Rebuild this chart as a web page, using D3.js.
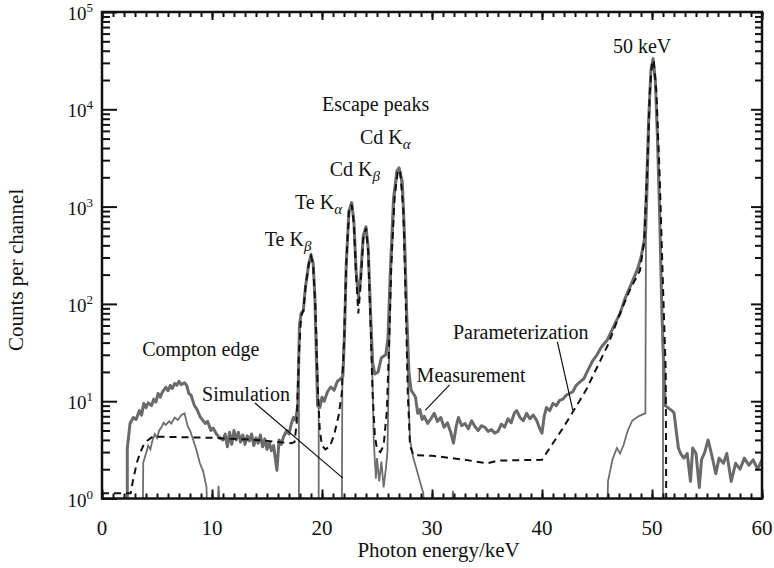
<!DOCTYPE html>
<html>
<head>
<meta charset="utf-8">
<script src="https://cdn.jsdelivr.net/npm/d3@7"></script>
<style>
  body { margin: 0; background: #fff; }
  svg text { font-family: "Liberation Serif", "DejaVu Serif", serif; fill: #111; }
</style>
</head>
<body>
<svg id="chart"></svg>
<script>
// spectrum data, [energy keV, counts]; 0.5 means nothing in that channel (clipped below axis)
const measurement = [
  [2.3,0.5],[2.3,3.3],[2.55,5.9],[2.85,6.8],[3.1,6.5],[3.4,8.0],[3.6,7.2],[3.8,9.5],[4.0,8.6],[4.2,9.6],
  [4.5,9.0],[4.7,10.5],[4.9,9.8],[5.1,12.0],[5.3,11.0],[5.5,12.5],[5.8,13.9],[6.0,12.8],[6.2,14.5],[6.4,13.5],
  [6.6,15.2],[6.8,14.6],[7.0,16.0],[7.2,14.8],[7.5,15.5],[7.7,14.5],[7.9,12.0],[8.1,11.5],[8.4,9.0],[8.6,8.4],
  [8.9,7.0],[9.1,6.5],[9.4,5.9],[9.6,6.2],[9.9,5.0],[10.1,5.3],[10.4,4.6],[10.7,4.2],[11.0,4.0],[11.2,4.6],
  [11.4,3.4],[11.6,4.8],[11.8,3.6],[12.0,5.0],[12.2,4.0],[12.4,4.8],[12.6,3.8],[12.8,4.5],[13.0,3.6],[13.2,4.4],
  [13.4,3.9],[13.6,4.6],[13.8,3.5],[14.0,4.2],[14.2,3.7],[14.4,4.5],[14.6,3.4],[14.8,4.1],[15.0,3.2],[15.2,3.8],
  [15.4,3.1],[15.6,3.5],[15.9,1.95],[16.1,4.0],[16.3,3.6],[16.5,4.3],[16.8,5.0],[17.0,4.6],[17.2,5.8],[17.4,6.8],
  [17.6,6.4],[17.8,9.0],[17.95,60],[18.1,80],[18.3,85],[18.5,150],[18.8,260],[19.0,320],[19.2,260],[19.35,120],
  [19.5,25],[19.6,9],[19.8,8.6],[20.0,11],[20.2,10],[20.5,12.5],[20.8,14],[21.1,13],[21.4,16],[21.7,17],
  [21.9,18],[22.05,50],[22.2,250],[22.45,900],[22.7,1100],[22.9,700],[23.1,220],[23.3,120],[23.5,180],[23.75,500],
  [24.0,620],[24.2,380],[24.4,90],[24.6,25],[24.8,19],[25.1,20],[25.4,28],[25.8,30],[26.0,45],[26.2,200],
  [26.5,1200],[26.8,2300],[27.0,2500],[27.3,1800],[27.5,500],[27.7,80],[27.9,20],[28.1,13],[28.3,12],[28.5,11],
  [28.7,7.5],[28.9,8.2],[29.1,6.5],[29.3,7.0],[29.6,5.9],[29.9,6.6],[30.2,7.5],[30.5,6.2],[30.8,6.8],[31.1,5.4],
  [31.4,6.0],[31.7,4.8],[31.95,3.7],[32.2,5.5],[32.4,6.8],[32.7,5.6],[33.0,5.9],[33.3,5.2],[33.6,6.3],[33.9,5.5],
  [34.2,5.0],[34.5,5.6],[34.8,5.4],[35.1,4.9],[35.4,5.1],[35.7,4.7],[36.0,4.9],[36.3,5.8],[36.6,5.4],[36.9,6.6],
  [37.2,6.0],[37.5,7.6],[37.7,8.0],[38.0,6.8],[38.3,6.3],[38.6,7.5],[38.9,6.6],[39.2,7.2],[39.5,6.4],[39.8,5.2],
  [40.0,4.7],[40.2,7.0],[40.4,8.6],[40.7,8.0],[41.0,9.5],[41.3,9.0],[41.6,10.2],[41.9,10.5],[42.2,11.5],[42.5,12],
  [42.8,12.5],[43.1,14.5],[43.5,16],[43.8,17],[44.1,20],[44.6,26],[45.0,30],[45.4,36],[45.9,42],[46.3,52],
  [46.7,65],[47.1,80],[47.5,110],[47.9,140],[48.3,180],[48.7,230],[49.0,300],[49.3,450],[49.5,1500],[49.7,8000],
  [49.9,25000],[50.1,33000],[50.3,20000],[50.5,5000],[50.7,800],[50.9,80],[51.1,20],[51.2,9],[51.5,8.5],[51.8,8.0],
  [52.0,7.6],[52.2,5.0],[52.4,3.3],[52.6,2.9],[52.9,2.6],[53.2,2.9],[53.5,1.5],[53.7,3.3],[54.0,2.9],[54.3,1.3],
  [54.5,2.5],[54.8,3.0],[55.1,4.0],[55.4,2.9],[55.8,1.8],[56.1,2.6],[56.5,2.3],[56.8,2.9],[57.2,1.5],[57.6,2.3],
  [58.0,2.0],[58.4,2.6],[58.8,2.2],[59.2,2.5],[59.6,2.0],[60.0,2.5]
];

const simulation = [
  [3.7,0.5],[3.75,2.35],[4.0,2.9],[4.2,3.5],[4.4,3.2],[4.6,4.0],[4.8,4.6],[5.0,4.2],[5.2,5.0],[5.4,5.4],
  [5.6,6.0],[5.8,5.7],[6.1,6.2],[6.3,5.9],[6.6,6.8],[6.9,6.4],[7.2,7.2],[7.5,7.5],[7.8,5.5],[8.0,5.0],
  [8.3,4.0],[8.6,3.1],[8.9,2.3],[9.2,1.9],[9.5,1.3],[9.6,0.5],[10.4,0.5],[10.6,1.35],[10.8,0.5],
  [17.9,0.5],[17.9,60],[18.1,75],[18.3,85],[18.5,150],[18.8,260],[19.0,320],[19.2,260],[19.4,100],[19.6,20],
  [19.7,8],[19.7,0.5],
  [21.8,0.5],[21.85,20],[22.0,40],[22.2,250],[22.45,900],[22.7,1100],[22.9,700],[23.1,220],[23.3,110],[23.5,170],
  [23.75,480],[24.0,620],[24.2,360],[24.4,80],[24.6,15],[24.7,4],[24.8,2.5],[24.9,1.6],[25.0,2.6],[25.2,1.5],
  [25.4,2.4],[25.6,1.3],[25.8,2.0],[25.95,3],[26.1,30],[26.3,250],[26.6,1300],[26.9,2400],[27.1,2400],[27.4,1000],
  [27.6,150],[27.8,20],[28.0,4],[28.3,2.6],[28.6,2.0],[28.9,1.5],[29.2,1.15],[29.4,0.5],
  [31.7,0.5],[31.9,1.2],[32.1,0.5],
  [45.9,0.5],[46.0,1.5],[46.4,2.5],[46.8,3.3],[47.1,2.9],[47.4,3.5],[47.8,5.0],[48.2,6.3],[48.6,6.8],[48.9,7.1],
  [49.4,7.5],[49.45,450],[49.6,1500],[49.75,8000],[49.9,25000],[50.1,33000],[50.3,20000],[50.5,5000],[50.7,800],
  [50.9,100],[51.0,20],[51.0,0.5]
];

const parameterization = [
  [0,1.13],[2.6,1.13],[2.8,1.5],[3.0,1.9],[3.2,2.4],[3.5,3.0],[3.8,3.6],[4.2,4.0],[4.6,4.3],[6,4.3],
  [10,4.2],[14,4.0],[16,3.8],[17.2,3.7],[17.5,3.8],[17.7,6],[17.9,30],[18.1,75],[18.3,85],[18.5,150],
  [18.8,260],[19.0,310],[19.2,250],[19.4,90],[19.6,15],[19.8,5],[20.0,3.5],[20.3,3.2],[20.7,3.4],[21.1,4.5],
  [21.5,7],[21.8,12],[22.0,40],[22.2,250],[22.45,880],[22.7,1050],[22.9,650],[23.1,200],[23.3,80],[23.5,150],
  [23.75,470],[24.0,600],[24.2,340],[24.4,70],[24.6,12],[24.8,4.5],[25.0,3.2],[25.3,3.0],[25.6,3.5],[25.9,8],
  [26.1,40],[26.3,250],[26.6,1250],[26.9,2350],[27.1,2350],[27.4,900],[27.6,120],[27.8,12],[28.0,3.5],[28.3,2.8],
  [30,2.75],[33,2.5],[35,2.3],[36,2.45],[40,2.5],[42,5.5],[44,13],[46,38],[47.1,80],[48,140],
  [48.9,220],[49.3,450],[49.6,3000],[49.8,15000],[50.0,30000],[50.15,32000],[50.4,15000],[50.7,2000],[51.0,150],
  [51.25,20],[51.3,0.5]
];

const xTicks = [0, 10, 20, 30, 40, 50, 60];
const yTicks = [1, 10, 100, 1000, 10000, 100000];
const yExponents = ["0", "1", "2", "3", "4", "5"];

// annotations in data coordinates: label start (baseline), optional leader line
const notes = [
  {text: "Compton edge", e: 3.65, c: 29},
  {text: "Simulation", e: 9.1, c: 10},
  {text: "Measurement", e: 28.6, c: 15.7},
  {text: "Parameterization", e: 31.9, c: 43.6},
  {text: "Escape peaks", e: 20.0, c: 9600},
  {text: "50 keV", e: 46.45, c: 37900}
];
const leaders = [
  [[13.9, 9.6], [21.9, 1.62]],
  [[31.6, 14.7], [29.4, 8.1]],
  [[41.4, 40.6], [42.8, 8.1]]
];
const peakNotes = [
  {main: "Te K", sub: "\u03b2", e: 14.8, c: 394},
  {main: "Te K", sub: "\u03b1", e: 17.55, c: 945},
  {main: "Cd K", sub: "\u03b2", e: 20.7, c: 2060},
  {main: "Cd K", sub: "\u03b1", e: 23.45, c: 4400}
];

const width = 774, height = 568;
const margin = {top: 12, right: 12, bottom: 69.5, left: 102};
const plotW = width - margin.left - margin.right,
      plotH = height - margin.top - margin.bottom;

const svg = d3.select("#chart").attr("width", width).attr("height", height);
const g = svg.append("g").attr("transform", `translate(${margin.left},${margin.top})`);

const x = d3.scaleLinear().domain([0, 60]).range([0, plotW]);
const y = d3.scaleLog().domain([1, 1e5]).range([plotH, 0]);

g.append("clipPath").attr("id", "plotclip")
  .append("rect").attr("width", plotW).attr("height", plotH);

const line = d3.line().x(d => x(d[0])).y(d => y(d[1]));

const curves = g.append("g").attr("clip-path", "url(#plotclip)");
curves.append("path").datum(measurement)
  .attr("d", line).attr("fill", "none")
  .attr("stroke", "#6a6a6a").attr("stroke-width", 3).attr("stroke-linejoin", "round");
curves.append("path").datum(simulation)
  .attr("d", line).attr("fill", "none")
  .attr("stroke", "#6e6e6e").attr("stroke-width", 1.8);
curves.append("path").datum(parameterization)
  .attr("d", line).attr("fill", "none")
  .attr("stroke", "#111").attr("stroke-width", 2).attr("stroke-dasharray", "7,5");

// ticks, all pointing inwards
const minorX = d3.range(0, 61, 1);
const minorY = [];
yTicks.slice(0, -1).forEach(t => { for (let k = 2; k <= 9; k++) minorY.push(t * k); });

function tickStyle(sel) {
  sel.select(".domain").remove();
  sel.selectAll("line").attr("stroke", "#111").attr("stroke-width", 2);
}

g.append("g").attr("transform", `translate(0,${plotH})`)
  .call(d3.axisBottom(x).tickValues(minorX).tickSize(-5).tickFormat("")).call(tickStyle);
g.append("g").attr("transform", `translate(0,${plotH})`)
  .call(d3.axisBottom(x).tickValues(xTicks).tickSize(-9).tickFormat("")).call(tickStyle);
g.append("g")
  .call(d3.axisTop(x).tickValues(minorX).tickSize(-5).tickFormat("")).call(tickStyle);
g.append("g")
  .call(d3.axisTop(x).tickValues(xTicks).tickSize(-8).tickFormat("")).call(tickStyle);

g.append("g")
  .call(d3.axisLeft(y).tickValues(minorY).tickSize(-8).tickFormat("")).call(tickStyle);
g.append("g")
  .call(d3.axisLeft(y).tickValues(yTicks).tickSize(-15).tickFormat("")).call(tickStyle);
g.append("g").attr("transform", `translate(${plotW},0)`)
  .call(d3.axisRight(y).tickValues(minorY).tickSize(-7).tickFormat("")).call(tickStyle);
g.append("g").attr("transform", `translate(${plotW},0)`)
  .call(d3.axisRight(y).tickValues(yTicks).tickSize(-11).tickFormat("")).call(tickStyle);

g.append("rect").attr("width", plotW).attr("height", plotH)
  .attr("fill", "none").attr("stroke", "#111").attr("stroke-width", 2.5);

// tick labels
g.selectAll(".xlab").data(xTicks).enter().append("text")
  .attr("x", d => x(d)).attr("y", plotH + 36)
  .attr("text-anchor", "middle").style("font-size", "21px")
  .text(d => d);

const yl = g.selectAll(".ylab").data(yTicks).enter().append("text")
  .attr("x", -9).attr("y", d => y(d) + 8)
  .attr("text-anchor", "end").style("font-size", "19px");
yl.append("tspan").text("10");
yl.append("tspan").attr("dy", -8).style("font-size", "13px")
  .text((d, i) => yExponents[i]);

// axis titles
svg.append("text")
  .attr("x", margin.left + plotW * 0.51).attr("y", 557)
  .attr("text-anchor", "middle").style("font-size", "21px")
  .text("Photon energy/keV");
svg.append("text")
  .attr("transform", `translate(23,${margin.top + plotH * 0.53}) rotate(-90)`)
  .attr("text-anchor", "middle").style("font-size", "21px")
  .text("Counts per channel");

// annotations
notes.forEach(n => {
  g.append("text").attr("x", x(n.e)).attr("y", y(n.c))
    .style("font-size", "20px").text(n.text);
});
leaders.forEach(l => {
  g.append("line")
    .attr("x1", x(l[0][0])).attr("y1", y(l[0][1]))
    .attr("x2", x(l[1][0])).attr("y2", y(l[1][1]))
    .attr("stroke", "#111").attr("stroke-width", 1.2);
});
peakNotes.forEach(n => {
  const t = g.append("text").attr("x", x(n.e)).attr("y", y(n.c)).style("font-size", "20px");
  t.append("tspan").text(n.main);
  t.append("tspan").attr("dy", 5).style("font-size", "15px").style("font-style", "italic").text(n.sub);
});
</script>
</body>
</html>
